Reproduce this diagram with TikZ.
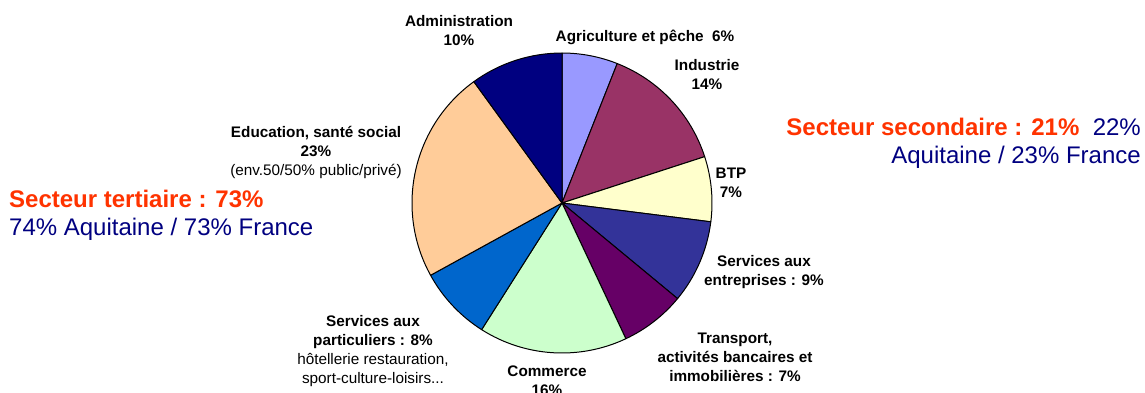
\documentclass[tikz,border=0pt]{standalone}
\usepackage{fontspec}
\setmainfont{Liberation Sans}
\definecolor{cAgri}{HTML}{9999FF}
\definecolor{cInd}{HTML}{993366}
\definecolor{cBtp}{HTML}{FFFFCC}
\definecolor{cSent}{HTML}{333399}
\definecolor{cTra}{HTML}{660066}
\definecolor{cCom}{HTML}{CCFFCC}
\definecolor{cSpart}{HTML}{0066CC}
\definecolor{cEdu}{HTML}{FFCC99}
\definecolor{cAdm}{HTML}{000080}
\definecolor{cRed}{HTML}{FF3300}
\definecolor{cBlue}{HTML}{000080}
\tikzset{
  lbl/.style={inner sep=0pt, align=center, font=\fontsize{15.3}{19}\selectfont\bfseries},
  big/.style={inner sep=0pt, font=\fontsize{24}{28}\selectfont, text=cBlue},
  slice/.style={draw=black, line width=1pt, line join=round},
}
\newcommand{\pieslice}[3]{%
  \filldraw[slice, fill=#3] (C) -- ([shift={(#1:150)}]C) arc[start angle=#1, end angle=#2, radius=150] -- cycle;}
\begin{document}
\begin{tikzpicture}[x=1pt, y=-1pt]
\useasboundingbox (0,0) rectangle (1145,392);
\coordinate (C) at (562,203);
% angles negated because y axis points down
\pieslice{-90}{-68.4}{cAgri}
\pieslice{-68.4}{-18}{cInd}
\pieslice{-18}{7.2}{cBtp}
\pieslice{7.2}{39.6}{cSent}
\pieslice{39.6}{64.8}{cTra}
\pieslice{64.8}{122.4}{cCom}
\pieslice{122.4}{151.2}{cSpart}
\pieslice{151.2}{234}{cEdu}
\pieslice{234}{270}{cAdm}

\node[lbl] (adm) at (459,30.5) {Administration\\10\%};
\node[lbl] (agri) at (645,37) {Agriculture et pêche\ \ 6\%};
\node[lbl] (ind) at (707,74.5) {Industrie\\14\%};
\node[lbl] (edu) at (316,152) {Education, santé social\\23\%\\\mdseries (env.50/50\% public/privé)};
\node[lbl] (btp) at (731,182.5) {BTP\\7\%};
\node[lbl] (sent) at (764,272) {Services aux\\entreprises : 9\%};
\node[lbl] (tra) at (735,357) {Transport,\\activités bancaires et\\immobilières : 7\%};
\node[lbl] (com) at (547,380.5) {Commerce\\16\%};
\node[lbl] (spart) at (373,351.5) {Services aux\\particuliers : 8\%\\\mdseries hôtellerie restauration,\\\mdseries sport-culture-loisirs...};

\node[big, anchor=west, align=left] (tert) at (9,215) {{\color{cRed}\bfseries Secteur tertiaire : 73\%}\\74\% Aquitaine / 73\% France};
\node[big, anchor=east, align=right] (sec) at (1141,143.5) {{\color{cRed}\bfseries Secteur secondaire : 21\%}\ \ 22\%\\Aquitaine / 23\% France};
\end{tikzpicture}
\end{document}
